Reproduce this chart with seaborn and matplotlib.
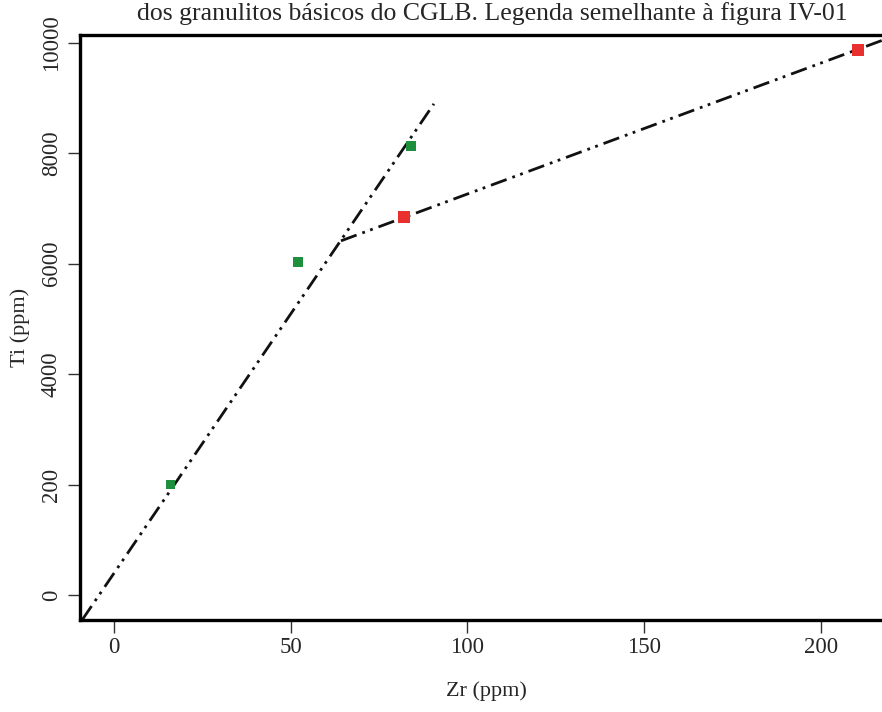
import matplotlib
matplotlib.use("Agg")
import matplotlib.pyplot as plt
import seaborn as sns
import pandas as pd

# Sample compositions (ppm)
zr_green = [16, 52, 84]
ti_green = [2000, 6030, 8130]
zr_red = [82, 210.5]
ti_red = [6850, 9860]

# Trend line end points (ppm)
trend1_zr = [-9, 90.5]
trend1_ti = [-450, 8890]
trend2_zr = [64.2, 222]
trend2_ti = [6410, 10150]

ytick_values = [0, 2000, 4000, 6000, 8000, 10000]
ytick_labels = ["0", "200", "4000", "6000", "8000", "10000"]
xtick_values = [0, 50, 100, 150, 200]
xtick_labels = ["0", "50", "100", "150", "200"]

sns.set_theme(style="white")
plt.rcParams["font.family"] = ["Liberation Serif", "DejaVu Serif"]

W, H = 882, 712
fig = plt.figure(figsize=(W / 100, H / 100), dpi=100)
left_px, right_px, top_px, bottom_px = 80, 892, 35, 620
ax = fig.add_axes([left_px / W, 1 - bottom_px / H,
                   (right_px - left_px) / W, (bottom_px - top_px) / H])

px_per_x = 3.535
px_per_y = 0.05525
ax.set_xlim((left_px - 114) / px_per_x, (right_px - 114) / px_per_x)
ax.set_ylim((595 - bottom_px) / px_per_y, (595 - top_px) / px_per_y)

dash = (0, (6, 2.2, 1, 2.0, 1, 2.2))
ax.plot(trend1_zr, trend1_ti, color="#111111", lw=2.0, linestyle=dash)
ax.plot(trend2_zr, trend2_ti, color="#111111", lw=2.0, linestyle=dash)

green_df = pd.DataFrame({"Zr": zr_green, "Ti": ti_green})
red_df = pd.DataFrame({"Zr": zr_red, "Ti": ti_red})
sns.scatterplot(data=green_df, x="Zr", y="Ti", ax=ax, marker="s", s=50,
                color="#1e8f3c", edgecolor="none", zorder=3)
sns.scatterplot(data=red_df, x="Zr", y="Ti", ax=ax, marker="s", s=75,
                color="#e8302f", edgecolor="none", zorder=3)

for side in ("left", "bottom", "top"):
    ax.spines[side].set_linewidth(2.4)
    ax.spines[side].set_color("black")
ax.spines["right"].set_visible(False)

ax.set_xticks(xtick_values)
ax.set_xticklabels(xtick_labels)
ax.set_yticks(ytick_values)
ax.set_yticklabels(ytick_labels, rotation=90, va="center")
ax.tick_params(axis="both", direction="out", length=9, width=1.0,
               color="#333333", labelsize=16.5, bottom=True, left=True)
ax.tick_params(axis="x", pad=3)
ax.tick_params(axis="y", pad=4)

ax.set_xlabel("Zr (ppm)", fontsize=16, labelpad=17)
ax.set_ylabel("Ti (ppm)", fontsize=16, labelpad=8)

fig.text(137 / W, 1 - 20 / H,
         "dos granulitos básicos do CGLB. Legenda semelhante à figura IV-01",
         fontsize=18.5, ha="left", va="baseline")

fig.savefig("out.png", dpi=100, facecolor="white")
